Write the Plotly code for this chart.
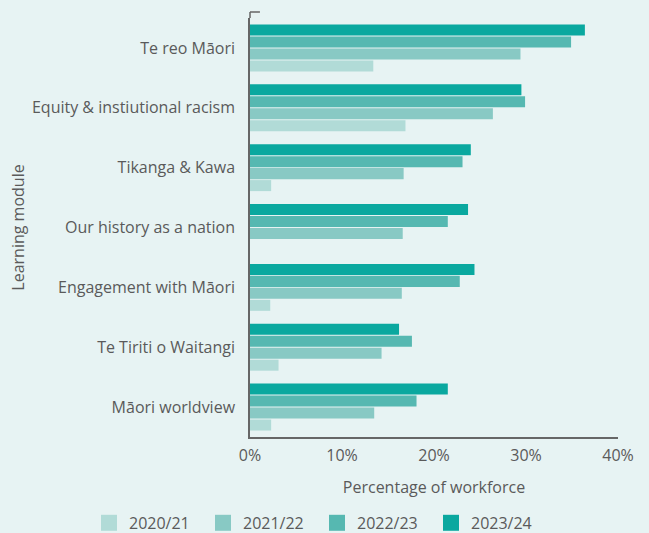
import plotly.graph_objects as go

categories = ["Te reo Māori", "Equity & instiutional racism", "Tikanga & Kawa",
              "Our history as a nation", "Engagement with Māori",
              "Te Tiriti o Waitangi", "Māori worldview"]
years = ["2020/21", "2021/22", "2022/23", "2023/24"]
v2020 = [13.4, 16.9, 2.3, 0, 2.2, 3.1, 2.3]
v2021 = [29.4, 26.4, 16.7, 16.6, 16.5, 14.3, 13.5]
v2022 = [34.9, 29.9, 23.1, 21.5, 22.8, 17.6, 18.1]
v2023 = [36.4, 29.5, 24.0, 23.7, 24.4, 16.2, 21.5]
colors = ["#B1DBD7", "#88C9C4", "#56B8B1", "#0AA89F"]
x_ticks = [0, 10, 20, 30, 40]
x_tick_labels = ["0%", "10%", "20%", "30%", "40%"]

series = [v2020, v2021, v2022, v2023]
cats_rev = categories[::-1]
txt = "#5a5a5a"
axc = "#666666"

fig = go.Figure()
for name, vals, col in zip(years, series, colors):
    fig.add_trace(go.Bar(
        y=cats_rev, x=vals[::-1], name=name, orientation="h",
        marker=dict(color=col, line=dict(width=0)),
        showlegend=False, legendgroup=name,
    ))
# legend entries with larger square swatches
for name, col in zip(years, colors):
    fig.add_trace(go.Scatter(
        x=[None], y=[None], mode="markers", name=name, legendgroup=name,
        marker=dict(symbol="square", size=16, color=col, line=dict(width=0)),
        showlegend=True,
    ))

fig.update_layout(
    width=649, height=533,
    barmode="group", bargap=0.2, bargroupgap=0.08,
    paper_bgcolor="#E7F3F3", plot_bgcolor="#E7F3F3",
    margin=dict(l=250, r=31, t=18, b=96, autoexpand=False),
    font=dict(family="Open Sans", color=txt, size=16),
    xaxis=dict(range=[0, 40], tickvals=x_ticks, ticktext=x_tick_labels,
               showgrid=False, zeroline=False, showline=True,
               linecolor=axc, linewidth=1.5, ticks="",
               ticklabelstandoff=3,
               title=dict(text="Percentage of workforce", standoff=17,
                          font=dict(size=16, color=txt)),
               tickfont=dict(size=16, color=txt)),
    yaxis=dict(showgrid=False, zeroline=False, showline=True,
               linecolor=axc, linewidth=1.5, ticks="",
               ticklabelstandoff=10,
               title=dict(text="Learning module", standoff=3,
                          font=dict(size=16, color=txt)),
               tickfont=dict(size=16, color=txt)),
    legend=dict(orientation="h", x=-0.4375, xanchor="left",
                y=-0.205, yanchor="middle",
                font=dict(size=16, color=txt),
                entrywidth=69, entrywidthmode="pixels",
                itemwidth=30, traceorder="normal"),
    showlegend=True,
)
# axis line extension and small corner tick at the top of the y axis
top_ext = 1 + 6 / 419
fig.add_shape(type="line", xref="paper", yref="paper", x0=0, x1=0,
              y0=1, y1=top_ext, line=dict(color=axc, width=1.5))
fig.add_shape(type="line", xref="paper", yref="paper", x0=0, x1=0.027,
              y0=top_ext, y1=top_ext, line=dict(color=axc, width=1.5))

fig.write_html("out.html", config={"displayModeBar": False},
               post_script="document.body.style.margin='0';document.body.style.padding='0';")
